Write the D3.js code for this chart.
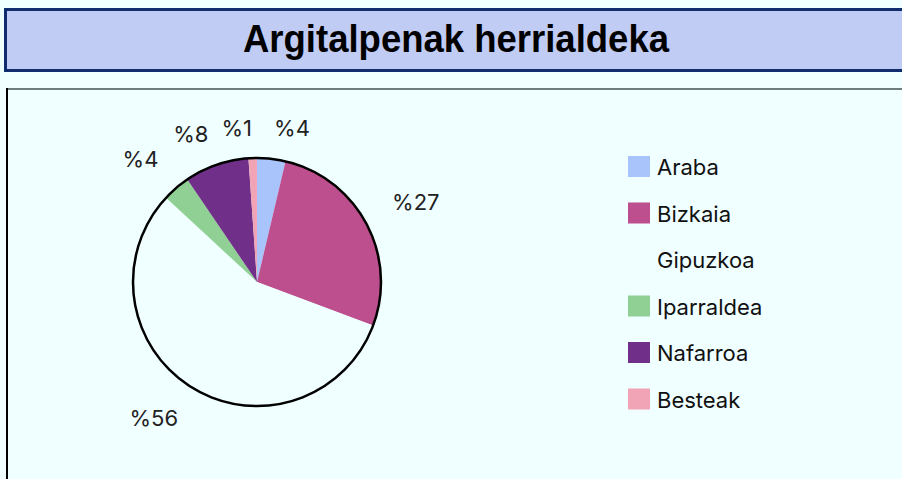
<!DOCTYPE html>
<html><head><meta charset="utf-8">
<script src="https://cdn.jsdelivr.net/npm/d3@7/dist/d3.min.js"></script>
<style>html,body{margin:0;padding:0;background:#F0FFFF;overflow:hidden} svg{display:block}</style>
</head><body>
<svg id="c" width="902" height="479"></svg>
<script>
const title = "Argitalpenak herrialdeka";
const categories = ["Araba","Bizkaia","Gipuzkoa","Iparraldea","Nafarroa","Besteak"];
const values = [3.7, 27.0, 56.2, 3.6, 8.4, 1.1];
const colors = ["#A8C4FA","#BE4F8E","#F0FFFF","#90D094","#702F88","#F0A4B6"];

const svg = d3.select("#c");
svg.append("rect").attr("width",902).attr("height",479).attr("fill","#F0FFFF");

// title box
svg.append("rect").attr("x",5.5).attr("y",9.5).attr("width",960).attr("height",61)
  .attr("fill","#C0CCF4").attr("stroke","#102C6C").attr("stroke-width",3);
svg.append("text").attr("x",456).attr("y",52).attr("text-anchor","middle")
  .attr("font-family","'Liberation Sans', Arial, sans-serif").attr("font-weight","bold")
  .attr("font-size",36.5).attr("fill","#000")
  .attr("transform","translate(456,52) scale(1,1.06) translate(-456,-52)")
  .text(title);

// plot frame
svg.append("line").attr("x1",6).attr("x2",902).attr("y1",89).attr("y2",89)
  .attr("stroke","#6E7C7C").attr("stroke-width",2);
svg.append("line").attr("x1",7).attr("x2",7).attr("y1",88).attr("y2",479)
  .attr("stroke","#000").attr("stroke-width",2);

// pie
const cx = 257, cy = 282, R = 124;
const color = d3.scaleOrdinal().domain(categories).range(colors);
const pie = d3.pie().sort(null).value(d => d.v);
const data = pie(categories.map((c,i) => ({c, v: values[i]})));
const arc = d3.arc().innerRadius(0).outerRadius(R);
const g = svg.append("g").attr("transform",`translate(${cx},${cy})`);
g.selectAll("path").data(data).enter().append("path")
  .attr("d", arc).attr("fill", d => color(d.data.c));
g.append("circle").attr("r",R).attr("fill","none").attr("stroke","#000").attr("stroke-width",2.5);

// labels: nearest corner of the label box sits on the slice mid-angle ray
const cap = 16;
g.selectAll("text.lab").data(data).enter().append("text").attr("class","lab")
  .attr("font-family","Inter, 'Liberation Sans', sans-serif").attr("font-size",22).attr("fill","#222")
  .text(d => "%" + Math.round(d.data.v))
  .each(function(d){
    const a = (d.startAngle + d.endAngle)/2;
    const dx = Math.sin(a), dy = -Math.cos(a);
    const r = 146 + 8*Math.abs(dx);
    const px = r*dx, py = r*dy;
    d3.select(this)
      .attr("x", px)
      .attr("y", dy < 0 ? py : py + cap)
      .attr("text-anchor", dx >= 0 ? "start" : "end");
  });

// legend
const lg = svg.append("g").attr("transform","translate(628,156)");
const row = lg.selectAll("g").data(categories).enter().append("g")
  .attr("transform",(d,i)=>`translate(0,${i*46.5})`);
row.append("rect").attr("width",22).attr("height",21).attr("fill", d => color(d));
row.append("text").attr("x",29).attr("y",19)
  .attr("font-family","Inter, 'Liberation Sans', sans-serif").attr("font-size",22).attr("fill","#111")
  .text(d => d);
</script>
</body></html>
